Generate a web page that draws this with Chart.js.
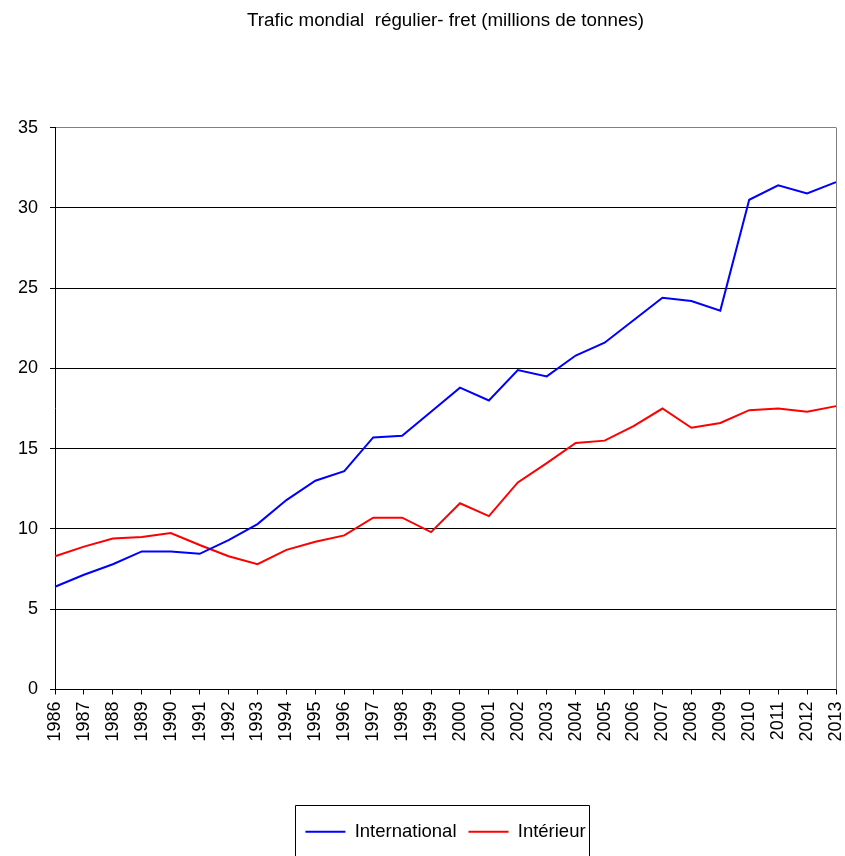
<!DOCTYPE html>
<html>
<head>
<meta charset="utf-8">
<title>Trafic mondial régulier - fret</title>
<script src="https://cdn.jsdelivr.net/npm/chart.js@4.4.1/dist/chart.umd.min.js"></script>
<style>
  html, body { margin: 0; padding: 0; background: #fff; }
  #wrap { width: 845px; height: 856px; }
</style>
</head>
<body>
<div id="wrap"><canvas id="fretChart" width="845" height="856"></canvas></div>
<script>
// chart data
const years = ["1986", "1987", "1988", "1989", "1990", "1991", "1992", "1993", "1994", "1995",
  "1996", "1997", "1998", "1999", "2000", "2001", "2002", "2003", "2004", "2005",
  "2006", "2007", "2008", "2009", "2010", "2011", "2012", "2013"];

const international = [6.4, 7.15, 7.8, 8.6, 8.6, 8.45, 9.3, 10.3, 11.8, 13.0,
  13.6, 15.7, 15.8, 17.3, 18.8, 18.0, 19.9, 19.5, 20.8, 21.6,
  23.0, 24.4, 24.2, 23.6, 30.5, 31.4, 30.9, 31.6];

const interieur = [8.3, 8.9, 9.4, 9.5, 9.75, 9.0, 8.3, 7.8, 8.7, 9.2,
  9.6, 10.7, 10.7, 9.8, 11.6, 10.8, 12.9, 14.1, 15.35, 15.5,
  16.4, 17.5, 16.3, 16.6, 17.4, 17.5, 17.3, 17.65];

const yTicks = [0, 5, 10, 15, 20, 25, 30, 35];

const FONT = "'Liberation Sans', Arial, sans-serif";

// frame on the right side of the plot + box round the legend
const framePlugin = {
  id: "frame",
  afterDraw(chart) {
    const ctx = chart.ctx;
    const a = chart.chartArea;
    ctx.save();
    ctx.strokeStyle = "#808080";
    ctx.lineWidth = 1;
    ctx.beginPath();
    ctx.moveTo(Math.round(a.right) + 0.5, a.top);
    ctx.lineTo(Math.round(a.right) + 0.5, a.bottom);
    ctx.stroke();

    const boxes = chart.legend.legendHitBoxes;
    if (boxes && boxes.length) {
      const first = boxes[0];
      const last = boxes[boxes.length - 1];
      const left = Math.round(first.left - 10) + 0.5;
      const right = Math.round(last.left + last.width + 3) + 0.5;
      const top = Math.round(first.top - 18) + 0.5;
      ctx.strokeStyle = "#000";
      ctx.beginPath();
      ctx.moveTo(left, chart.height + 5);
      ctx.lineTo(left, top);
      ctx.lineTo(right, top);
      ctx.lineTo(right, chart.height + 5);
      ctx.stroke();
    }
    ctx.restore();
  }
};

new Chart(document.getElementById("fretChart"), {
  type: "line",
  data: {
    labels: years,
    datasets: [
      {
        label: "International",
        data: international,
        borderColor: "#0000ff",
        backgroundColor: "#0000ff",
        borderWidth: 2,
        pointRadius: 0,
        tension: 0
      },
      {
        label: "Intérieur",
        data: interieur,
        borderColor: "#ff0000",
        backgroundColor: "#ff0000",
        borderWidth: 2,
        pointRadius: 0,
        tension: 0
      }
    ]
  },
  options: {
    responsive: false,
    devicePixelRatio: 1,
    animation: false,
    layout: {
      padding: { left: 6, right: 9, top: 0, bottom: 5 }
    },
    plugins: {
      title: {
        display: true,
        fullSize: false,
        text: "Trafic mondial  régulier- fret (millions de tonnes)",
        color: "#000",
        font: { family: FONT, size: 18.8, weight: "normal" },
        padding: { top: 10, bottom: 95 }
      },
      legend: {
        display: true,
        position: "bottom",
        fullSize: false,
        labels: {
          color: "#000",
          font: { family: FONT, size: 18.5 },
          usePointStyle: true,
          pointStyle: "line",
          pointStyleWidth: 40,
          padding: 12
        }
      },
      tooltip: { enabled: false }
    },
    scales: {
      x: {
        offset: false,
        afterFit(scale) {
          // room between the year labels and the legend, no extra side padding
          scale.height = 121;
          scale.paddingLeft = 0;
          scale.paddingRight = 0;
        },
        border: { display: true, color: "#000", width: 1 },
        grid: {
          display: true,
          drawOnChartArea: false,
          drawTicks: true,
          tickLength: 5,
          color: "#000"
        },
        ticks: {
          autoSkip: false,
          maxRotation: 90,
          minRotation: 90,
          padding: 7,
          color: "#000",
          font: { family: FONT, size: 18 }
        }
      },
      y: {
        min: 0,
        max: 35,
        afterBuildTicks(scale) { scale.ticks = yTicks.map(v => ({ value: v })); },
        border: { display: true, color: "#000", width: 1 },
        grid: {
          color: ctx => (ctx.tick && ctx.tick.value === 35 ? "#808080" : "#000"),
          tickColor: "#000",
          tickLength: 5,
          lineWidth: 1
        },
        ticks: {
          padding: 12,
          color: "#000",
          font: { family: FONT, size: 18 }
        }
      }
    }
  },
  plugins: [framePlugin]
});
</script>
</body>
</html>
